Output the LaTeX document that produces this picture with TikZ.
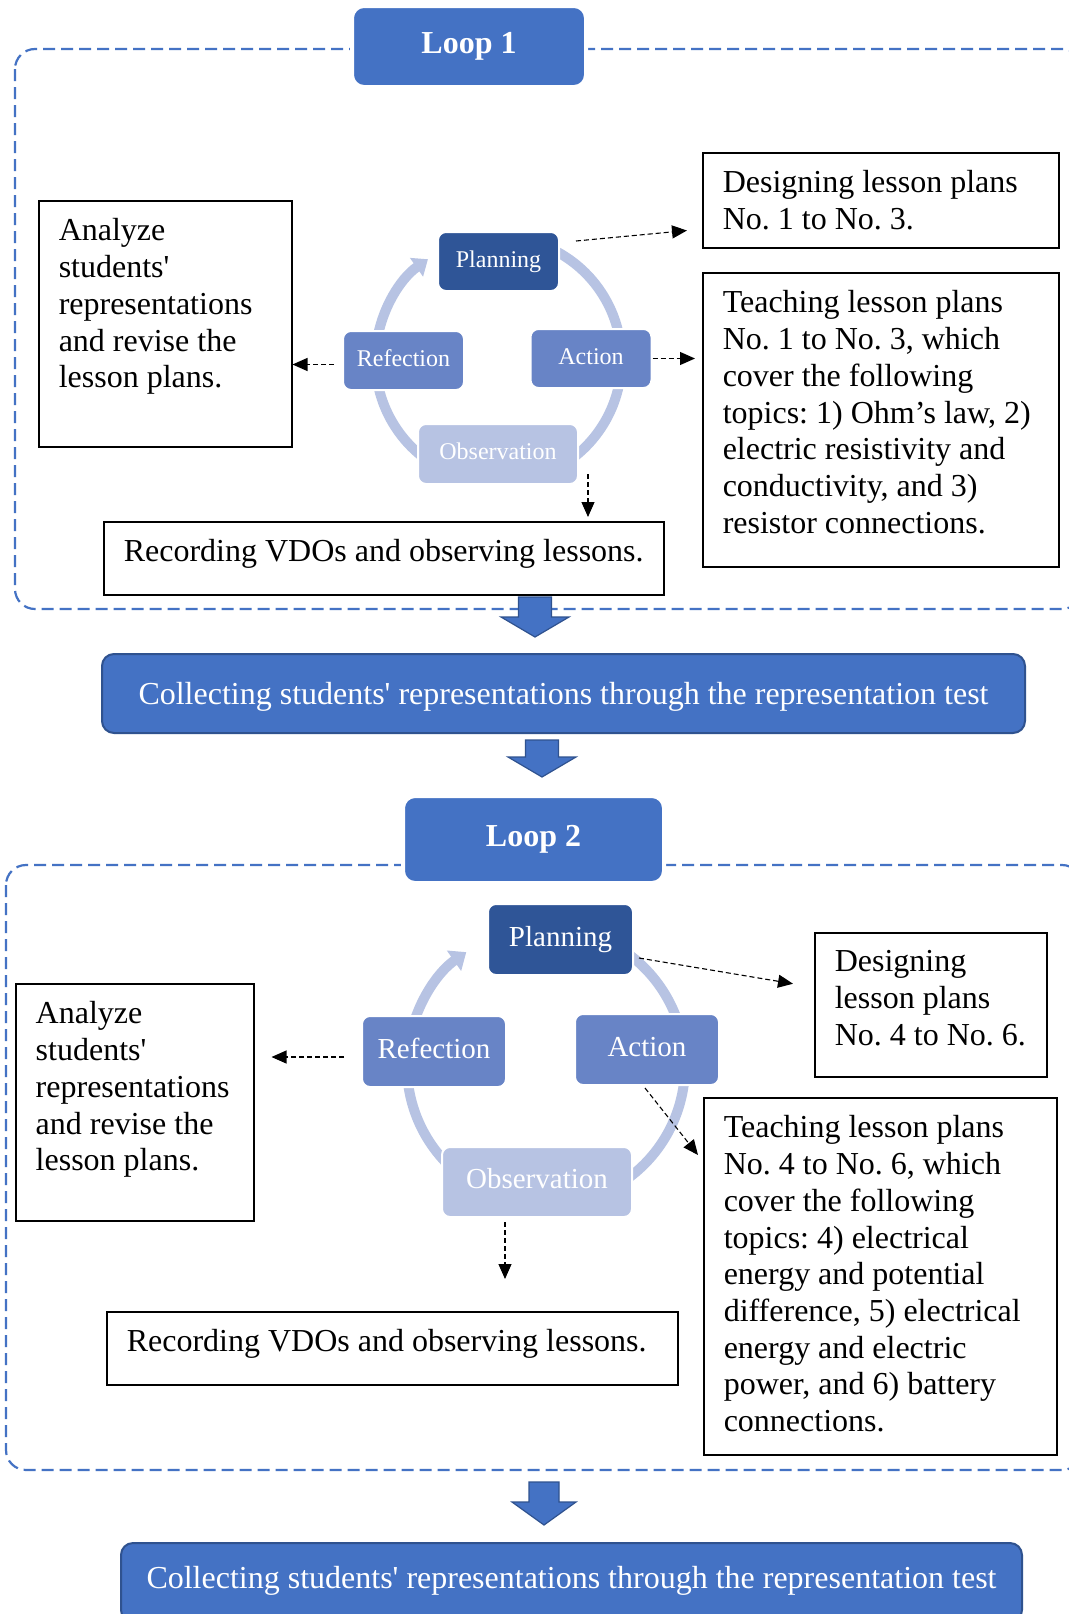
\documentclass[tikz,border=0pt]{standalone}
\usepackage{fontspec}
\setmainfont{Liberation Serif}
\usepackage{tikz}
\usetikzlibrary{arrows.meta}
\definecolor{loopblue}{RGB}{68,114,196}
\definecolor{loopedge}{RGB}{47,82,143}
\definecolor{plandark}{RGB}{47,85,151}
\definecolor{cyclemid}{RGB}{104,132,198}
\definecolor{cyclelight}{RGB}{183,195,227}
\frenchspacing

\newcommand{\boxtext}[3]{\parbox[t][#2][t]{#1}{\raggedright\leftskip=20pt\relax #3}}

\tikzset{
  txtbox/.style={draw, line width=1.5pt, anchor=north west, inner xsep=0pt, inner ysep=18pt, font=\fontsize{32}{36.7}\selectfont},
  loopbox/.style={fill=loopblue, draw=white, line width=4pt, rounded corners=12pt, text=white, font=\fontsize{32}{36.7}\selectfont\bfseries, text height=22pt, text depth=9pt},
  collectbox/.style={fill=loopblue, draw=loopedge, line width=2pt, rounded corners=12pt, text=white, font=\fontsize{32}{36.7}\selectfont, minimum height=79pt, text height=25pt, text depth=3pt},
  stagebox/.style={draw=white, line width=2pt, rounded corners=8pt, text=white, inner sep=0pt},
  stagesmall/.style={stagebox, minimum width=121pt, minimum height=59pt, font=\fontsize{24}{28}\selectfont, text height=17pt, text depth=6pt},
  stagelarge/.style={stagebox, minimum width=144pt, minimum height=71pt, font=\fontsize{29}{33}\selectfont, text height=20pt, text depth=7pt},
  ring/.style={cyclelight, line width=10pt},
  frame/.style={loopblue, line width=2.2pt, dash pattern=on 12pt off 6pt, rounded corners=20pt},
  dasharrow/.style={black, line width=1.1pt, dash pattern=on 5pt off 3pt, -{Triangle[length=15pt,width=13pt]}},
  bigarrow/.style={fill=loopblue, draw=loopedge, line width=1.2pt}
}

\begin{document}
\begin{tikzpicture}[x=1pt,y=1pt]
\fill[white] (0,0) rectangle (1068,-1614);
\useasboundingbox (0,0) rectangle (1068,-1614);

% loop 1
\draw[frame] (15,-49) rectangle (1082,-609);
\node[loopbox, minimum width=234pt, minimum height=81pt] (loop1) at (469,-46.5) {Loop 1};

\coordinate (c1) at (498.5,-360);
\draw[ring, -{Triangle[width=22pt,length=14pt]}] (c1) ++(172:123) arc[start angle=172, end angle=125, radius=123];
\draw[ring] (c1) ++(62:123) arc[start angle=62, end angle=8, radius=123];
\draw[ring] (c1) ++(-8:123) arc[start angle=-8, end angle=-55, radius=123];
\draw[ring] (c1) ++(235:123) arc[start angle=235, end angle=188, radius=123];

\node[stagesmall, fill=plandark] (pl1) at (498.5,-261.5) {Planning};
\node[stagesmall, fill=cyclemid] (ac1) at (591,-358.5) {Action};
\node[stagesmall, fill=cyclemid] (re1) at (403.5,-360.5) {Refection};
\node[stagesmall, fill=cyclelight, minimum width=160pt, minimum height=60pt] (ob1) at (498,-454) {Observation};

\node[txtbox] (ana1) at (38,-200) {\boxtext{253pt}{210pt}{Analyze\\students\textquotesingle\\representations\\and revise the\\lesson plans.}};
\node[txtbox] (des1) at (702,-152) {\boxtext{356pt}{59pt}{Designing lesson plans\\No. 1 to No. 3.}};
\node[txtbox] (tea1) at (702,-272) {\boxtext{356pt}{258pt}{Teaching lesson plans\\No. 1 to No. 3, which\\cover the following\\topics: 1) Ohm’s law, 2)\\electric resistivity and\\conductivity, and 3)\\resistor connections.}};
\node[txtbox] (rec1) at (103,-521) {\boxtext{560pt}{37pt}{Recording VDOs and observing lessons.}};

\draw[dasharrow] ([shift={(16pt,-10pt)}]pl1.north east) -- ([shift={(-15pt,18pt)}]des1.south west);
\draw[dasharrow, shorten >=7pt] (ac1.east) -- (ac1.east -| tea1.west);
\draw[dasharrow] ([shift={(-8pt,-4pt)}]re1.west) -- ([yshift=-4pt]re1.west -| ana1.east);
\draw[dasharrow, shorten >=4pt] ([shift={(9pt,11pt)}]ob1.south east) -- ([xshift=9pt]ob1.south east |- rec1.north);

\draw[bigarrow] (518.5,-597) -- (551.5,-597) -- (551.5,-617) -- (569,-617) -- (535,-637) -- (501,-617) -- (518.5,-617) -- cycle;
\node[collectbox, minimum width=923pt] (col1) at (563.5,-693.5) {Collecting students\textquotesingle{} representations through the representation test};
\draw[bigarrow] (525.5,-740) -- (558.5,-740) -- (558.5,-757) -- (576,-757) -- (542,-777) -- (508,-757) -- (525.5,-757) -- cycle;

% loop 2
\draw[frame] (6,-865) rectangle (1082,-1470);
\node[loopbox, minimum width=261pt, minimum height=87pt] (loop2) at (533.5,-839.5) {Loop 2};

\coordinate (c2) at (546,-1066);
\draw[ring, -{Triangle[width=24pt,length=15pt]}] (c2) ++(170:139) arc[start angle=170, end angle=125, radius=139];
\draw[ring] (c2) ++(60:139) arc[start angle=60, end angle=5, radius=139];
\draw[ring] (c2) ++(-5:139) arc[start angle=-5, end angle=-58, radius=139];
\draw[ring] (c2) ++(235:139) arc[start angle=235, end angle=186, radius=139];

\node[stagelarge, fill=plandark, minimum width=145pt] (pl2) at (560.5,-939.5) {Planning};
\node[stagelarge, fill=cyclemid] (ac2) at (647,-1049.5) {Action};
\node[stagelarge, fill=cyclemid] (re2) at (434,-1051.5) {Refection};
\node[stagelarge, fill=cyclelight, minimum width=190pt, minimum height=70pt] (ob2) at (537,-1182) {Observation};

\node[txtbox] (ana2) at (15,-983) {\boxtext{238pt}{201pt}{Analyze\\students\textquotesingle\\representations\\and revise the\\lesson plans.}};
\node[txtbox] (des2) at (814,-932) {\boxtext{232pt}{108pt}{Designing\\lesson plans\\No. 4 to No. 6.}};
\node[txtbox] (tea2) at (703,-1097) {\boxtext{353pt}{321pt}{Teaching lesson plans\\No. 4 to No. 6, which\\cover the following\\topics: 4) electrical\\energy and potential\\difference, 5) electrical\\energy and electric\\power, and 6) battery\\connections.}};
\node[txtbox] (rec2) at (106,-1311) {\boxtext{571pt}{37pt}{Recording VDOs and observing lessons.}};

\draw[dasharrow] ([shift={(5pt,18pt)}]pl2.south east) -- ([shift={(-21pt,21pt)}]des2.west);
\draw[dasharrow] ([shift={(-2pt,-2pt)}]ac2.south) -- ([shift={(-5pt,-58pt)}]tea2.north west);
\draw[dasharrow, shorten >=17pt] ([shift={(-17pt,-5.5pt)}]re2.west) -- ([yshift=-5.5pt]re2.west -| ana2.east);
\draw[dasharrow, shorten >=32pt] ([shift={(-32pt,-4pt)}]ob2.south) -- ([xshift=-32pt]ob2.south |- rec2.north);

\draw[bigarrow] (529,-1482) -- (559,-1482) -- (559,-1502) -- (576,-1502) -- (544,-1525) -- (512,-1502) -- (529,-1502) -- cycle;
\node[collectbox, minimum width=901pt, text height=20pt, text depth=8pt] (col2) at (571.5,-1582.5) {Collecting students\textquotesingle{} representations through the representation test};
\end{tikzpicture}
\end{document}
